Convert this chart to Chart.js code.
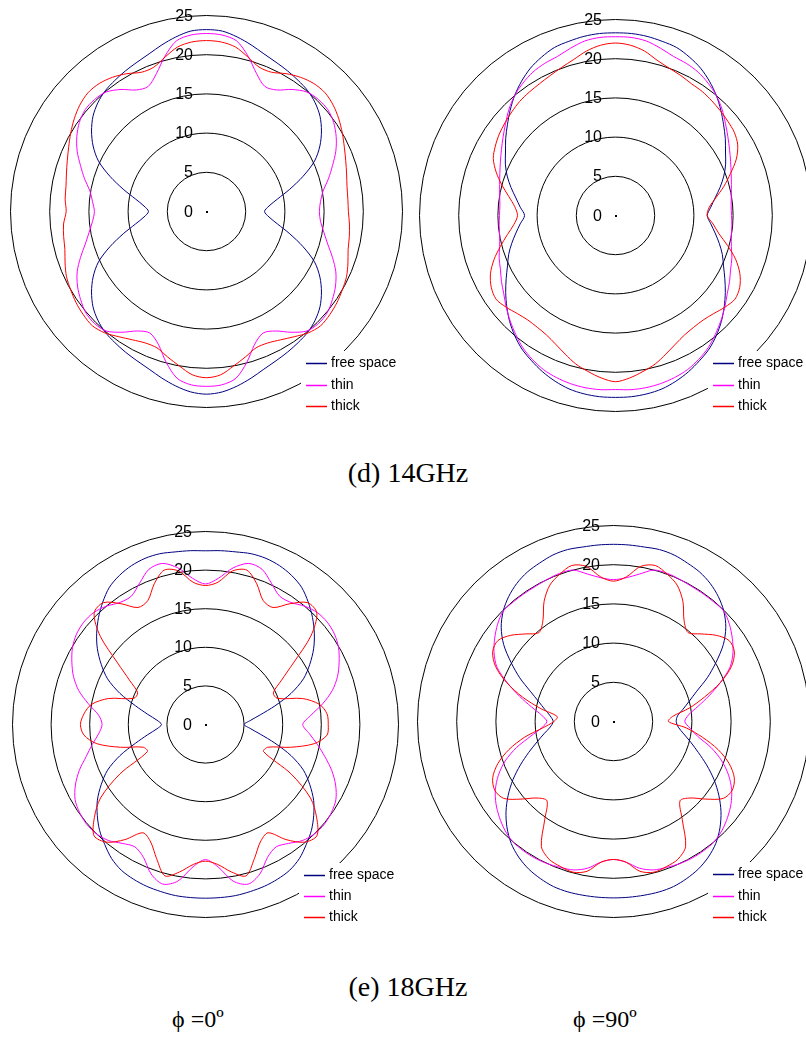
<!DOCTYPE html>
<html>
<head>
<meta charset="utf-8">
<script src="https://cdn.jsdelivr.net/npm/chart.js@4/dist/chart.umd.min.js"></script>
<style>
  html, body { margin: 0; padding: 0; background: #fff; }
  body { width: 806px; height: 1037px; position: relative; overflow: hidden; }
  canvas { position: absolute; }
  .cap { position: absolute; font-family: "Liberation Serif", "Times New Roman", serif; color: #000; white-space: nowrap; }
</style>
</head>
<body>
<canvas id="p14phi0" width="420" height="420" style="left:-4px;top:1px;width:420px;height:420px"></canvas>
<canvas id="p14phi90" width="420" height="420" style="left:405px;top:5px;width:420px;height:420px"></canvas>
<canvas id="p18phi0" width="420" height="420" style="left:-5px;top:514px;width:420px;height:420px"></canvas>
<canvas id="p18phi90" width="420" height="420" style="left:403px;top:511px;width:420px;height:420px"></canvas>

<div class="cap" style="left:308px;width:200px;text-align:center;top:459px;font-size:28px;line-height:28px">(d) 14GHz</div>
<div class="cap" style="left:308px;width:200px;text-align:center;top:973px;font-size:28px;line-height:28px">(e) 18GHz</div>
<div class="cap" style="left:172px;top:1007px;font-size:24px;line-height:24px">ϕ =0º</div>
<div class="cap" style="left:573px;top:1007px;font-size:24px;line-height:24px">ϕ =90º</div>

<script>
// Angle of each sample, degrees clockwise from the top of the plot
const angleDeg = [0,5,10,15,20,25,30,35,40,45,50,55,60,65,70,75,80,85,
                  90,95,100,105,110,115,120,125,130,135,140,145,150,155,160,165,170,175,
                  180,185,190,195,200,205,210,215,220,225,230,235,240,245,250,255,260,265,
                  270,275,280,285,290,295,300,305,310,315,320,325,330,335,340,345,350,355];

// Radial scale ticks (dB)
const radialTicks = [0, 5, 10, 15, 20, 25];

const seriesNames = ['free space', 'thin', 'thick'];
const seriesColors = ['#000080', '#ff00ff', '#ff0000'];

// 14 GHz, phi = 0
const free14phi0 = [23.2,23.1,22.6,22.0,21.4,21.0,20.7,20.4,20.1,19.6,18.9,17.9,16.7,15.2,13.1,11.0,9.2,8.0,
                    7.4,8.0,9.2,11.0,13.1,15.2,16.7,17.9,18.9,19.6,20.1,20.4,20.7,21.0,21.4,22.0,22.6,23.1,
                    23.3,23.1,22.6,22.0,21.4,21.0,20.7,20.4,20.1,19.6,18.9,17.9,16.7,15.2,13.1,11.0,9.2,8.0,
                    7.4,8.0,9.2,11.0,13.1,15.2,16.7,17.9,18.9,19.6,20.1,20.4,20.7,21.0,21.4,22.0,22.6,23.1];
const thin14phi0 = [22.7,22.6,22.1,20.5,18.7,17.6,17.9,19.0,19.9,20.2,20.2,19.8,19.1,18.2,17.1,16.1,15.1,14.6,
                    14.4,14.6,15.2,16.0,17.1,18.2,19.0,19.6,20.1,20.2,19.9,18.8,17.6,17.1,18.0,19.9,21.6,22.2,
                    22.3,22.2,21.6,19.9,18.0,17.1,17.6,18.8,19.9,20.2,20.1,19.6,19.0,18.2,17.1,16.0,15.2,14.6,
                    14.3,14.6,15.1,16.1,17.1,18.2,19.1,19.8,20.2,20.2,19.9,19.0,17.9,17.6,18.7,20.5,22.1,22.6];
const thick14phi0 = [21.8,21.7,21.3,20.4,19.6,19.6,20.3,20.9,21.3,21.4,21.1,20.6,20.0,19.4,18.9,18.5,18.2,18.1,
                     18.1,18.3,18.5,18.7,19.2,19.7,20.0,20.3,20.5,20.6,20.2,19.5,18.9,18.5,18.5,19.2,20.0,20.9,
                     21.2,20.9,20.0,19.2,18.5,18.5,18.9,19.5,20.2,20.6,20.5,20.3,20.0,19.7,19.2,18.7,18.5,18.3,
                     17.9,18.1,18.2,18.5,18.9,19.4,20.0,20.6,21.1,21.4,21.3,20.9,20.3,19.6,19.6,20.4,21.3,21.7];

// 14 GHz, phi = 90
const free14phi90 = [23.3,23.3,23.2,23.0,22.8,22.3,21.7,20.9,20.0,19.0,18.0,17.1,16.2,15.5,14.7,13.8,12.9,12.2,
                     11.7,12.2,12.9,13.7,14.5,15.2,16.1,17.1,18.1,19.1,20.0,20.8,21.4,22.0,22.5,22.9,23.1,23.2,
                     23.2,23.2,23.1,22.9,22.5,22.0,21.4,20.8,20.0,19.1,18.1,17.1,16.1,15.2,14.5,13.7,12.9,12.2,
                     11.6,12.2,12.9,13.8,14.7,15.5,16.2,17.1,18.0,19.0,20.0,20.9,21.7,22.3,22.8,23.0,23.2,23.3];
const thin14phi90 = [22.8,22.8,22.6,22.1,21.6,21.4,21.1,20.6,20.0,19.2,18.3,17.5,16.8,16.2,15.7,15.3,15.0,14.8,
                     14.8,14.9,15.0,15.3,15.8,16.2,16.8,17.4,18.2,19.0,19.8,20.6,21.2,21.7,22.0,22.2,22.3,22.3,
                     22.2,22.3,22.3,22.2,22.0,21.7,21.2,20.6,19.8,19.0,18.2,17.4,16.8,16.2,15.8,15.3,15.0,14.9,
                     14.8,14.8,15.0,15.3,15.7,16.2,16.8,17.5,18.3,19.2,20.0,20.6,21.1,21.4,21.6,22.1,22.6,22.8];
const thick14phi90 = [22.0,21.8,21.3,20.5,20.0,19.7,19.4,19.3,19.1,18.9,18.7,18.5,18.0,17.0,15.6,14.3,13.0,12.0,
                      11.7,12.5,13.4,14.8,16.3,17.5,18.3,18.6,18.2,17.7,17.4,17.4,17.6,18.1,18.8,19.6,20.2,20.8,
                      21.2,20.8,20.2,19.6,18.8,18.1,17.6,17.4,17.4,17.7,18.2,18.6,18.3,17.6,16.5,15.2,14.0,13.0,
                      12.5,12.9,13.8,15.0,16.2,17.2,17.7,18.1,18.4,18.7,19.0,19.2,19.4,19.7,20.1,20.6,21.3,21.8];

// 18 GHz, phi = 0
const free18phi0 = [22.5,22.6,22.7,22.9,22.9,22.7,22.3,21.7,20.7,19.6,18.4,17.1,15.6,14.0,11.8,9.3,7.2,5.8,
                    5.0,5.8,7.2,9.3,11.8,14.0,15.6,17.1,18.3,19.4,20.3,21.2,21.8,22.1,22.3,22.4,22.5,22.5,
                    22.5,22.5,22.5,22.4,22.3,22.1,21.8,21.2,20.3,19.4,18.3,17.1,15.6,14.0,11.8,9.4,7.6,6.3,
                    5.7,6.3,7.6,9.4,11.8,14.0,15.6,17.1,18.4,19.6,20.7,21.7,22.3,22.7,22.9,22.9,22.7,22.6];
const thin18phi0 = [18.2,19.0,20.6,21.6,21.4,20.2,19.2,19.3,20.0,20.5,20.6,20.4,19.9,19.1,18.2,17.0,15.4,13.7,
                    12.6,13.5,14.7,16.0,17.4,18.6,19.5,19.9,20.1,20.0,19.6,18.8,18.3,19.0,20.6,21.4,20.6,18.5,
                    17.5,18.5,20.6,21.4,20.6,19.0,18.3,18.8,19.6,20.0,20.1,19.9,19.5,18.6,17.4,16.0,14.9,13.9,
                    13.4,13.9,15.4,17.0,18.2,19.1,19.9,20.4,20.6,20.5,20.0,19.3,19.2,20.2,21.4,21.6,20.6,19.0];
const thick18phi0 = [18.0,18.5,20.2,20.7,19.4,17.7,17.5,19.1,20.6,20.4,17.8,13.9,11.3,9.7,9.9,13.0,15.0,15.8,
                     15.9,15.8,14.3,11.4,8.6,8.3,12.8,16.6,18.8,20.4,19.9,18.2,16.2,16.8,18.5,20.3,19.4,18.2,
                     17.7,18.2,19.4,20.3,18.5,16.8,16.2,18.2,19.9,20.4,18.8,16.6,12.8,8.3,8.6,11.4,14.3,15.8,
                     16.2,15.8,15.0,13.0,9.9,9.7,11.3,13.9,17.8,20.4,20.6,19.1,17.5,17.7,19.4,20.7,20.2,18.5];

// 18 GHz, phi = 90
const free18phi90 = [22.6,22.6,22.6,22.7,22.6,22.3,22.0,21.5,20.8,19.9,18.7,17.1,15.1,13.2,11.3,10.0,9.0,8.2,
                     8.0,8.3,9.1,10.2,11.5,13.1,14.8,16.4,17.9,19.2,20.3,21.1,21.7,22.1,22.4,22.5,22.5,22.5,
                     22.5,22.5,22.5,22.5,22.4,22.1,21.7,21.1,20.3,19.2,17.9,16.4,14.8,13.1,11.5,10.1,9.0,8.1,
                     7.7,8.1,8.9,9.9,11.3,13.2,15.1,17.1,18.7,19.9,20.8,21.5,22.0,22.3,22.6,22.7,22.6,22.6];
const thin18phi90 = [18.1,18.4,19.1,20.0,20.1,20.0,19.9,19.9,19.9,19.9,19.3,18.5,17.6,16.4,14.5,12.6,10.9,9.6,
                     9.1,9.8,10.9,12.9,14.7,16.2,17.4,18.3,19.0,19.6,20.0,20.1,20.1,20.0,19.8,19.6,19.0,18.0,
                     17.6,18.0,19.0,19.6,19.8,20.0,20.1,20.1,20.0,19.6,19.0,18.3,17.4,16.2,14.7,12.8,10.7,9.2,
                     8.5,9.2,10.6,12.4,14.4,16.4,17.6,18.5,19.3,19.9,19.9,19.9,19.9,20.0,20.1,20.0,19.1,18.4];
const thick18phi90 = [17.9,18.5,20.1,20.6,20.0,19.2,17.7,15.7,14.8,15.8,17.1,18.0,17.8,16.6,14.5,12.0,9.8,7.6,
                      7.0,9.3,11.5,13.8,15.7,17.0,17.5,17.1,15.4,13.8,13.2,15.3,18.4,19.4,19.7,19.9,19.4,18.0,
                      17.6,18.0,19.4,19.9,19.7,19.4,18.4,15.3,13.2,13.8,15.4,17.1,17.5,17.0,15.7,13.8,11.5,9.0,
                      7.6,7.2,9.4,12.0,14.5,16.6,17.8,18.0,17.1,15.8,14.8,15.7,17.7,19.2,20.0,20.6,20.1,18.5];

// Ring labels, centre dot and the in-plot legend
const polarDecor = {
  id: 'polarDecor',
  beforeDraw(chart) {
    chart.ctx.save();
    chart.ctx.translate(0.5, 0.5);
  },
  afterDraw(chart, args, opts) {
    const ctx = chart.ctx;
    ctx.restore();
    const r = chart.scales.r;
    const cx = r.xCenter + 0.5, cy = r.yCenter + 0.5;
    ctx.save();
    ctx.fillStyle = '#000';
    ctx.font = '16px "Liberation Sans", Arial, sans-serif';
    ctx.textAlign = 'right';
    ctx.textBaseline = 'middle';
    radialTicks.forEach(v => {
      const d = r.getDistanceFromCenterForValue(v);
      ctx.fillText(String(v), Math.round(cx - 14), Math.round(cy - d) + 1);
    });
    ctx.fillRect(Math.round(cx) - 1, Math.round(cy) - 1, 2, 2);

    const L = opts.legend;
    ctx.fillStyle = '#fff';
    ctx.fillRect(L.x - 5, L.y - 12, chart.width, chart.height);
    ctx.font = '14px "Liberation Sans", Arial, sans-serif';
    ctx.textAlign = 'left';
    seriesNames.forEach((name, i) => {
      const y = Math.round(L.y + i * L.gap) + 0.5;
      ctx.strokeStyle = seriesColors[i];
      ctx.lineWidth = 1.5;
      ctx.beginPath();
      ctx.moveTo(L.x, y);
      ctx.lineTo(L.x + 21, y);
      ctx.stroke();
      ctx.fillStyle = '#000';
      ctx.fillText(name, L.x + 25, y);
    });
    ctx.restore();
  }
};

function drawPolar(canvasId, values, padding, legend) {
  const datasets = values.map((data, i) => ({
    label: seriesNames[i],
    data: data,
    borderColor: seriesColors[i],
    backgroundColor: 'transparent',
    borderWidth: 1,
    pointRadius: 0,
    pointHoverRadius: 0,
    fill: false,
    tension: 0.3,
    order: 3 - i
  }));
  return new Chart(document.getElementById(canvasId), {
    type: 'radar',
    data: { labels: angleDeg, datasets: datasets },
    options: {
      responsive: false,
      animation: false,
      devicePixelRatio: 1,
      events: [],
      layout: { padding: padding },
      plugins: {
        legend: { display: false },
        tooltip: { enabled: false },
        polarDecor: { legend: legend }
      },
      scales: {
        r: {
          min: radialTicks[0],
          max: radialTicks[radialTicks.length - 1],
          ticks: { display: false, stepSize: 5 },
          grid: { circular: true, color: '#000', lineWidth: 1 },
          angleLines: { display: false },
          pointLabels: { display: false }
        }
      }
    },
    plugins: [polarDecor]
  });
}

drawPolar('p14phi0',  [free14phi0,  thin14phi0,  thick14phi0],  14, { x: 310, y: 362, gap: 21.5 });
drawPolar('p14phi90', [free14phi90, thin14phi90, thick14phi90], 14, { x: 308, y: 358, gap: 21.5 });
drawPolar('p18phi0',  [free18phi0,  thin18phi0,  thick18phi0],  17, { x: 309, y: 361, gap: 21 });
drawPolar('p18phi90', [free18phi90, thin18phi90, thick18phi90], 14, { x: 310, y: 363, gap: 21.5 });
</script>
</body>
</html>
